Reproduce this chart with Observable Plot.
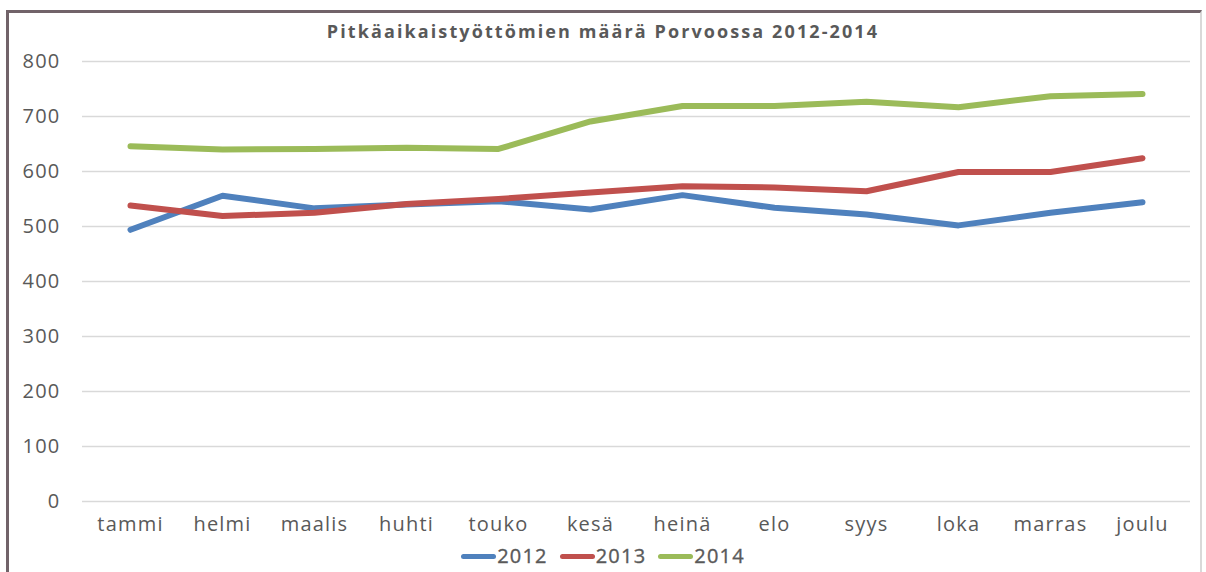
<!DOCTYPE html>
<html>
<head>
<meta charset="utf-8">
<script src="https://cdn.jsdelivr.net/npm/d3@7"></script>
<script src="https://cdn.jsdelivr.net/npm/@observablehq/plot@0.6"></script>
<style>
  html, body { margin: 0; padding: 0; background: #fff; }
  #wrap { position: relative; width: 1206px; height: 572px; overflow: hidden; font-family: "Open Sans", sans-serif; color: #595959; }
  #frame { position: absolute; left: 6px; top: 10px; width: 1196px; height: 620px; border-left: 3px solid #716369; border-top: 3px solid #716369; border-right: 2px solid #d9d9d9; box-sizing: border-box; }
  #title { position: absolute; left: 0; width: 1206px; top: 18px; text-align: center; font-weight: bold; font-size: 18px; letter-spacing: 2.1px; line-height: 26px; }
  #chart { position: absolute; left: 0; top: 0; }
  #legend { position: absolute; left: 0; width: 1206px; top: 543px; display: flex; justify-content: center; align-items: center; font-size: 20px; letter-spacing: 1.2px; line-height: 26px; -webkit-text-stroke: 0.35px #595959; }
  .item { display: flex; align-items: center; margin: 0 6px; }
  .sw { width: 35px; height: 5px; border-radius: 3px; margin-right: 1px; }
</style>
</head>
<body>
<div id="wrap">
  <div id="frame"></div>
  <div id="chart"></div>
  <div id="title">Pitkäaikaistyöttömien määrä Porvoossa 2012-2014</div>
  <div id="legend"></div>
</div>
<script>
const months = ["tammi","helmi","maalis","huhti","touko","kesä","heinä","elo","syys","loka","marras","joulu"];
const years = ["2012","2013","2014"];
const v2012 = [494, 556, 533, 540, 546, 531, 557, 534, 522, 502, 525, 544];
const v2013 = [538, 519, 525, 541, 550, 562, 573, 571, 564, 599, 599, 624];
const v2014 = [646, 640, 641, 643, 641, 691, 719, 719, 727, 717, 737, 741];
const colors = ["#4F81BD", "#C0504D", "#9BBB59"];
const yTicks = [0, 100, 200, 300, 400, 500, 600, 700, 800];

const series = {"2012": v2012, "2013": v2013, "2014": v2014};
const data = [];
for (const y of years) {
  series[y].forEach((v, i) => data.push({month: months[i], value: v, year: y}));
}

const chart = Plot.plot({
  width: 1206,
  height: 541,
  marginTop: 61,
  marginBottom: 40,
  marginLeft: 82,
  marginRight: 16,
  style: {fontFamily: "Open Sans, sans-serif", fontSize: "20px", color: "#595959", letterSpacing: "1.2px", background: "transparent"},
  x: {type: "point", domain: months, padding: 0.5, label: null},
  y: {domain: [0, 800], label: null},
  color: {domain: years, range: colors},
  marks: [
    Plot.gridY(yTicks, {stroke: "#d9d9d9", strokeOpacity: 1, strokeWidth: 1.3}),
    Plot.axisY(yTicks, {tickSize: 0, tickPadding: 22, label: null, fill: "#595959", stroke: "#595959", strokeWidth: 0.35}),
    Plot.axisX({tickSize: 0, tickPadding: 15, label: null, fill: "#595959", stroke: "#595959", strokeWidth: 0.35}),
    Plot.line(data, {x: "month", y: "value", z: "year", stroke: "year", strokeWidth: 6, strokeLinecap: "round", strokeLinejoin: "round"})
  ]
});
document.getElementById("chart").appendChild(chart);

const legend = document.getElementById("legend");
years.forEach((y, i) => {
  const it = document.createElement("div");
  it.className = "item";
  const sw = document.createElement("div");
  sw.className = "sw";
  sw.style.background = colors[i];
  const t = document.createElement("span");
  t.textContent = y;
  it.appendChild(sw); it.appendChild(t);
  legend.appendChild(it);
});
</script>
</body>
</html>
